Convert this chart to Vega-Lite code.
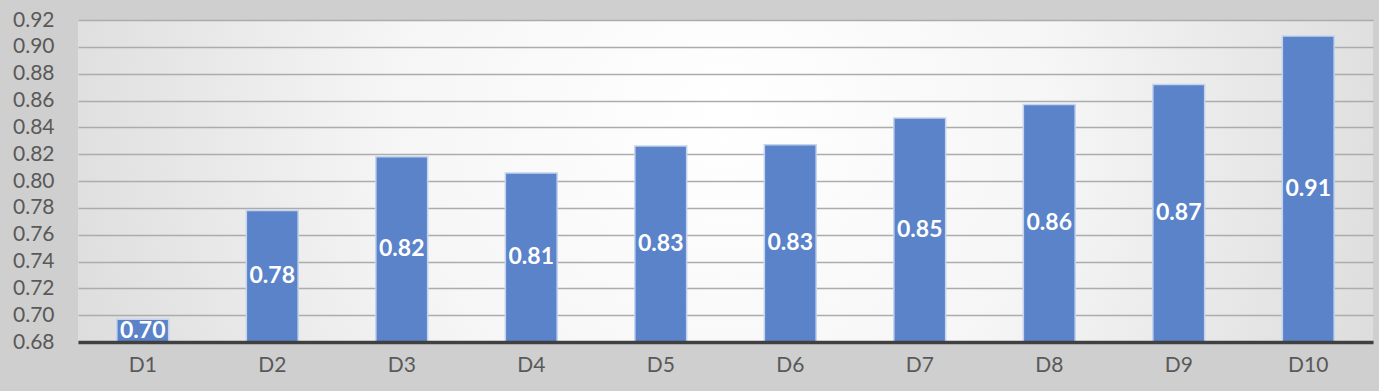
{
  "$schema": "https://vega.github.io/schema/vega-lite/v6.json",
  "width": 1295,
  "height": 322,
  "autosize": "none",
  "padding": {"left": 78, "top": 20, "right": 6, "bottom": 49},
  "background": "#cfcfcf",
  "config": {
    "view": {
      "stroke": null,
      "fill": {
        "gradient": "radial",
        "x1": 0.5, "y1": 0.45, "r1": 0,
        "x2": 0.5, "y2": 0.45, "r2": 0.72,
        "stops": [
          {"offset": 0, "color": "#ffffff"},
          {"offset": 0.35, "color": "#f6f6f6"},
          {"offset": 1, "color": "#cccccc"}
        ]
      }
    },
    "font": "Lato"
  },
  "data": {
    "values": [
      {"d": "D1", "value": 0.697},
      {"d": "D2", "value": 0.778},
      {"d": "D3", "value": 0.818},
      {"d": "D4", "value": 0.806},
      {"d": "D5", "value": 0.826},
      {"d": "D6", "value": 0.827},
      {"d": "D7", "value": 0.847},
      {"d": "D8", "value": 0.857},
      {"d": "D9", "value": 0.872},
      {"d": "D10", "value": 0.908}
    ]
  },
  "encoding": {
    "x": {
      "field": "d",
      "type": "nominal",
      "sort": null,
      "scale": {"paddingInner": 0.6, "paddingOuter": 0.3},
      "axis": {
        "title": null,
        "labelAngle": 0,
        "labelFont": "Lato",
        "labelFontSize": 21,
        "labelColor": "#595959",
        "labelPadding": 12,
        "ticks": false,
        "domainColor": "#404040",
        "domainWidth": 3.5,
        "zindex": 1
      }
    },
    "y": {
      "field": "value",
      "type": "quantitative",
      "scale": {"domain": [0.68, 0.92], "zero": false, "nice": false},
      "axis": {
        "title": null,
        "values": [0.68, 0.70, 0.72, 0.74, 0.76, 0.78, 0.80, 0.82, 0.84, 0.86, 0.88, 0.90, 0.92],
        "format": ".2f",
        "labelOverlap": false,
        "labelFont": "Lato",
        "labelFontSize": 21,
        "labelColor": "#595959",
        "labelPadding": 24,
        "ticks": false,
        "domain": false,
        "gridColor": "#acacac",
        "gridWidth": 1.5
      }
    }
  },
  "layer": [
    {
      "mark": {"type": "bar", "fill": "#5a83ca", "stroke": "#c4d3ee", "strokeWidth": 1.5},
      "encoding": {
        "y2": {"datum": 0.68}
      }
    },
    {
      "mark": {
        "type": "text",
        "color": "#ffffff",
        "fontWeight": "bold",
        "fontSize": 23,
        "font": "Lato",
        "baseline": "middle",
        "dy": {"expr": "(scale('y', 0.68) - scale('y', datum.value)) / 2"}
      },
      "encoding": {
        "text": {"field": "value", "type": "quantitative", "format": ".2f"}
      }
    }
  ]
}
